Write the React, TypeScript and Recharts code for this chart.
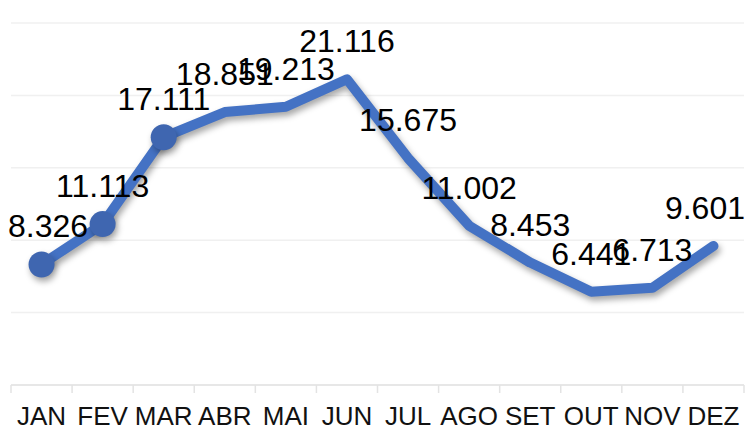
import { LineChart, Line, XAxis, YAxis, CartesianGrid, LabelList } from "recharts";

const months = ["JAN", "FEV", "MAR", "ABR", "MAI", "JUN", "JUL", "AGO", "SET", "OUT", "NOV", "DEZ"];
const values = [8326, 11113, 17111, 18851, 19213, 21116, 15675, 11002, 8453, 6441, 6713, 9601];
const yTicks = [0, 5000, 10000, 15000, 20000, 25000];
const markedPoints = 3; // only the first three months carry a marker

const W = 747;
const H = 428;
const M = { top: 23, right: 3, left: 11, bottom: 3 };
const AXIS_H = 40;
const AXIS_Y = H - M.bottom - AXIS_H;
const FONT = "'Liberation Sans', Arial, sans-serif";
const BLUE = "#4472C4";
const band = (W - M.left - M.right) / months.length;

const data = months.map((m, i) => ({ month: m, value: values[i] }));

function fmt(v: number) {
  return String(v).replace(/\B(?=(\d{3})+(?!\d))/g, ".");
}

function MonthTick(props: { x?: number; index?: number; payload?: { value: string } }) {
  const { x = 0, index = 0, payload } = props;
  const last = index === months.length - 1;
  return (
    <g>
      <line x1={x - band / 2} x2={x - band / 2} y1={AXIS_Y} y2={AXIS_Y + 8} stroke="#e3e3e3" strokeWidth={1.5} />
      {last && <line x1={x + band / 2} x2={x + band / 2} y1={AXIS_Y} y2={AXIS_Y + 8} stroke="#e3e3e3" strokeWidth={1.5} />}
      <text x={x} y={AXIS_Y + 40} textAnchor="middle" fontSize={26} fontFamily={FONT} fill="#111">
        {payload?.value}
      </text>
    </g>
  );
}

function ValueLabel(props: { x?: number | string; y?: number | string; value?: number | string }) {
  const x = Number(props.x ?? 0);
  const y = Number(props.y ?? 0);
  const s = fmt(Number(props.value));
  const half = (s.replace(".", "").length * 0.556 + 0.278) * 32 / 2;
  const cx = Math.min(Math.max(x, half + 8), W - half - 2);
  return (
    <text x={cx} y={y - 27} textAnchor="middle" fontSize={32} fontFamily={FONT} fill="#000">
      {s}
    </text>
  );
}

function Marker(props: { cx?: number; cy?: number; index?: number }) {
  const { cx, cy, index = 0 } = props;
  if (cx == null || cy == null || index >= markedPoints) return <g key={index} />;
  return <circle key={index} cx={cx} cy={cy} r={13} fill="#3F66B0" />;
}

export default function App() {
  return (
    <div style={{ position: "absolute", left: 0, top: 0, width: W, height: H, background: "#fff" }}>
      <style>{`.recharts-line-curve, .recharts-line-dots { filter: drop-shadow(2px 4px 3px rgba(0,0,0,0.35)); }`}</style>
      <LineChart width={W} height={H} data={data} margin={M}>
        <CartesianGrid vertical={false} stroke="#f0f0f0" strokeWidth={1.5} />
        <XAxis
          dataKey="month"
          scale="band"
          height={AXIS_H}
          interval={0}
          tickLine={false}
          axisLine={{ stroke: "#e3e3e3", strokeWidth: 1.5 }}
          tick={<MonthTick />}
        />
        <YAxis hide domain={[0, 25000]} ticks={yTicks} />
        <Line
          type="linear"
          dataKey="value"
          stroke={BLUE}
          strokeWidth={10}
          strokeLinejoin="round"
          strokeLinecap="round"
          dot={<Marker />}
          activeDot={false}
          isAnimationActive={false}
        >
          <LabelList dataKey="value" content={<ValueLabel />} />
        </Line>
      </LineChart>
    </div>
  );
}
